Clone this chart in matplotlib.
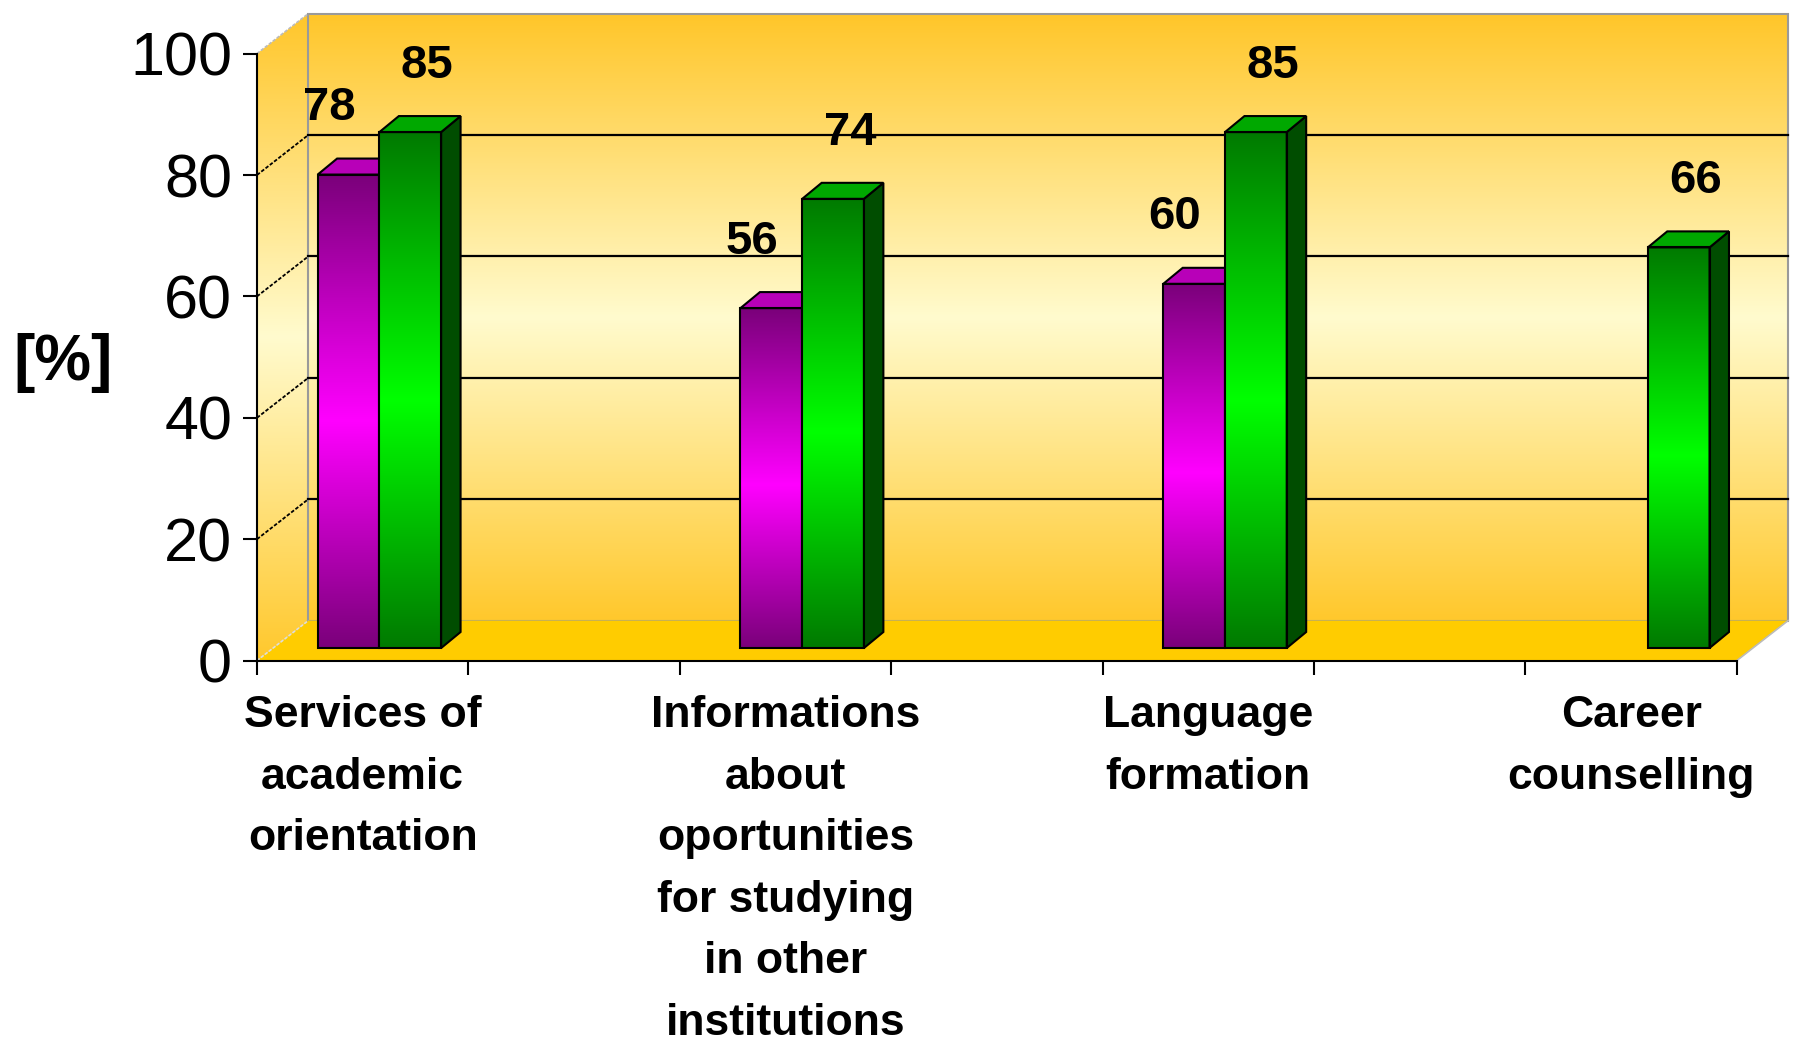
import numpy as np
import matplotlib.pyplot as plt
from matplotlib.patches import Polygon
from matplotlib.colors import LinearSegmentedColormap

# data
categories = ['Services of\nacademic\norientation',
              'Informations\nabout\noportunities\nfor studying\nin other\ninstitutions',
              'Language\nformation',
              'Career\ncounselling']
purple_vals = [78, 56, 60, np.nan]
green_vals = [85, 74, 85, 66]
y_ticks = [0, 20, 40, 60, 80, 100]

slots = [0, 2, 4, 6]     # categories sit in every other slot, 7 slots in all
n_slots = 7

# fake 3d box
wall_dx, wall_dy = 0.243, 6.6
bar_dx, bar_dy = 0.092, 2.64
off_x, off_y = 0.079, 2.07
bw = 0.292

plt.rcParams['font.family'] = ['Liberation Sans', 'DejaVu Sans']

fig = plt.figure(figsize=(17.93, 10.42), dpi=100)
ax = fig.add_axes([257 / 1793, 381.4 / 1042, 7.26 * 211.4 / 1793, 107 * 6.07 / 1042])

grad = np.linspace(0, 1, 256).reshape(-1, 1)
wall_cmap = LinearSegmentedColormap.from_list('wall', [(0, '#FFC82C'), (0.5, '#FFFBCE'), (1, '#FFC62A')])
purple_cmap = LinearSegmentedColormap.from_list('pur', [(0, '#7A007A'), (0.48, '#FF00FF'), (1, '#7A007A')])
green_cmap = LinearSegmentedColormap.from_list('grn', [(0, '#007A00'), (0.48, '#00FF00'), (1, '#007A00')])

# back wall
ax.imshow(grad, extent=[wall_dx, n_slots + wall_dx, wall_dy, 100 + wall_dy], origin='lower',
          aspect='auto', cmap=wall_cmap, zorder=0)
ax.add_patch(plt.Rectangle((wall_dx, wall_dy), n_slots, 100, fill=False, edgecolor='#9A9A9A', lw=1.5, zorder=1))

# left wall
lw_poly = Polygon([(0, 0), (wall_dx, wall_dy), (wall_dx, 100 + wall_dy), (0, 100)], closed=True,
                  facecolor='none', edgecolor='none')
ax.add_patch(lw_poly)
im = ax.imshow(grad, extent=[0, wall_dx, 0, 100 + wall_dy], origin='lower', aspect='auto', cmap=wall_cmap, zorder=0)
im.set_clip_path(lw_poly)

# floor
ax.add_patch(Polygon([(0, 0), (n_slots, 0), (n_slots + wall_dx, wall_dy), (wall_dx, wall_dy)], closed=True,
                     facecolor='#FFCC00', edgecolor='none', zorder=1))
ax.plot([n_slots, n_slots + wall_dx], [0, wall_dy], color='#BBBBBB', lw=1.2, zorder=1)
ax.plot([0, wall_dx], [0, wall_dy], color='#DDDDDD', lw=1.2, ls=(0, (2, 1)), zorder=1)
ax.plot([0, wall_dx], [100, 100 + wall_dy], color='#BBBBBB', lw=1.2, ls=(0, (2, 1)), zorder=1)

# grid lines
for v in y_ticks[1:-1]:
    ax.plot([wall_dx, n_slots + wall_dx], [v + wall_dy] * 2, color='black', lw=1.6, zorder=2)
    ax.plot([0, wall_dx], [v, v + wall_dy], color='black', lw=1.3, ls=(0, (2, 1)), zorder=2)


def draw_bars(xs, vals, cmap, top_col, side_col, z):
    bars = ax.bar(xs, vals, width=bw, bottom=off_y, align='edge', facecolor='none',
                  edgecolor='black', linewidth=1.5, zorder=z + 1)
    for b in bars:
        x0, y0, w, h = b.get_x(), b.get_y(), b.get_width(), b.get_height()
        img = ax.imshow(grad, extent=[x0, x0 + w, y0, y0 + h], origin='lower', aspect='auto',
                        cmap=cmap, zorder=z)
        img.set_clip_path(b)
        ax.add_patch(Polygon([(x0 + w, y0), (x0 + w + bar_dx, y0 + bar_dy), (x0 + w + bar_dx, y0 + h + bar_dy),
                              (x0 + w, y0 + h)], closed=True, facecolor=side_col, edgecolor='black',
                             lw=1.5, zorder=z))
        ax.add_patch(Polygon([(x0, y0 + h), (x0 + bar_dx, y0 + h + bar_dy), (x0 + w + bar_dx, y0 + h + bar_dy),
                              (x0 + w, y0 + h)], closed=True, facecolor=top_col, edgecolor='black',
                             lw=1.5, zorder=z))
    return bars


pur_x = [s + 0.5 + off_x - bw for s, v in zip(slots, purple_vals) if not np.isnan(v)]
pur_v = [v for v in purple_vals if not np.isnan(v)]
grn_x = [s + 0.5 + off_x for s in slots]

draw_bars(pur_x, pur_v, purple_cmap, '#B800B8', '#600060', 4)
draw_bars(grn_x, green_vals, green_cmap, '#00A800', '#004D00', 6)

for x, v in zip(pur_x, pur_v):
    ax.text(x + bw / 2 - 0.09, v + 13, str(v), ha='center', va='center', fontsize=34,
            fontweight='bold', zorder=10)
for x, v in zip(grn_x, green_vals):
    ax.text(x + bw / 2 + 0.08, v + 13, str(v), ha='center', va='center', fontsize=34,
            fontweight='bold', zorder=10)

# axes
for s in ['top', 'right']:
    ax.spines[s].set_visible(False)
ax.spines['left'].set_bounds(0, 100)
ax.spines['bottom'].set_bounds(0, n_slots)
ax.spines['left'].set_linewidth(1.5)
ax.spines['bottom'].set_linewidth(1.5)
ax.spines['left'].set_zorder(3)
ax.spines['bottom'].set_zorder(3)

ax.set_yticks(y_ticks)
ax.set_yticklabels([str(t) for t in y_ticks], fontsize=44)
ax.tick_params(axis='y', length=10, width=1.5, pad=8)
ax.set_xticks(range(n_slots + 1))
ax.set_xticklabels([''] * (n_slots + 1))
ax.tick_params(axis='x', which='major', length=10, width=1.5)
ax.set_xticks([s + 0.5 for s in slots], minor=True)
ax.set_xticklabels(categories, minor=True, fontsize=32, fontweight='bold', linespacing=1.64)
ax.tick_params(axis='x', which='minor', length=0, pad=25)

ax.set_xlim(0, 7.26)
ax.set_ylim(0, 107)

fig.text(63 / 1793, 1 - 363 / 1042, '[%]', fontsize=46, fontweight='bold', ha='center', va='center')

fig.savefig('out.png', dpi=100)
